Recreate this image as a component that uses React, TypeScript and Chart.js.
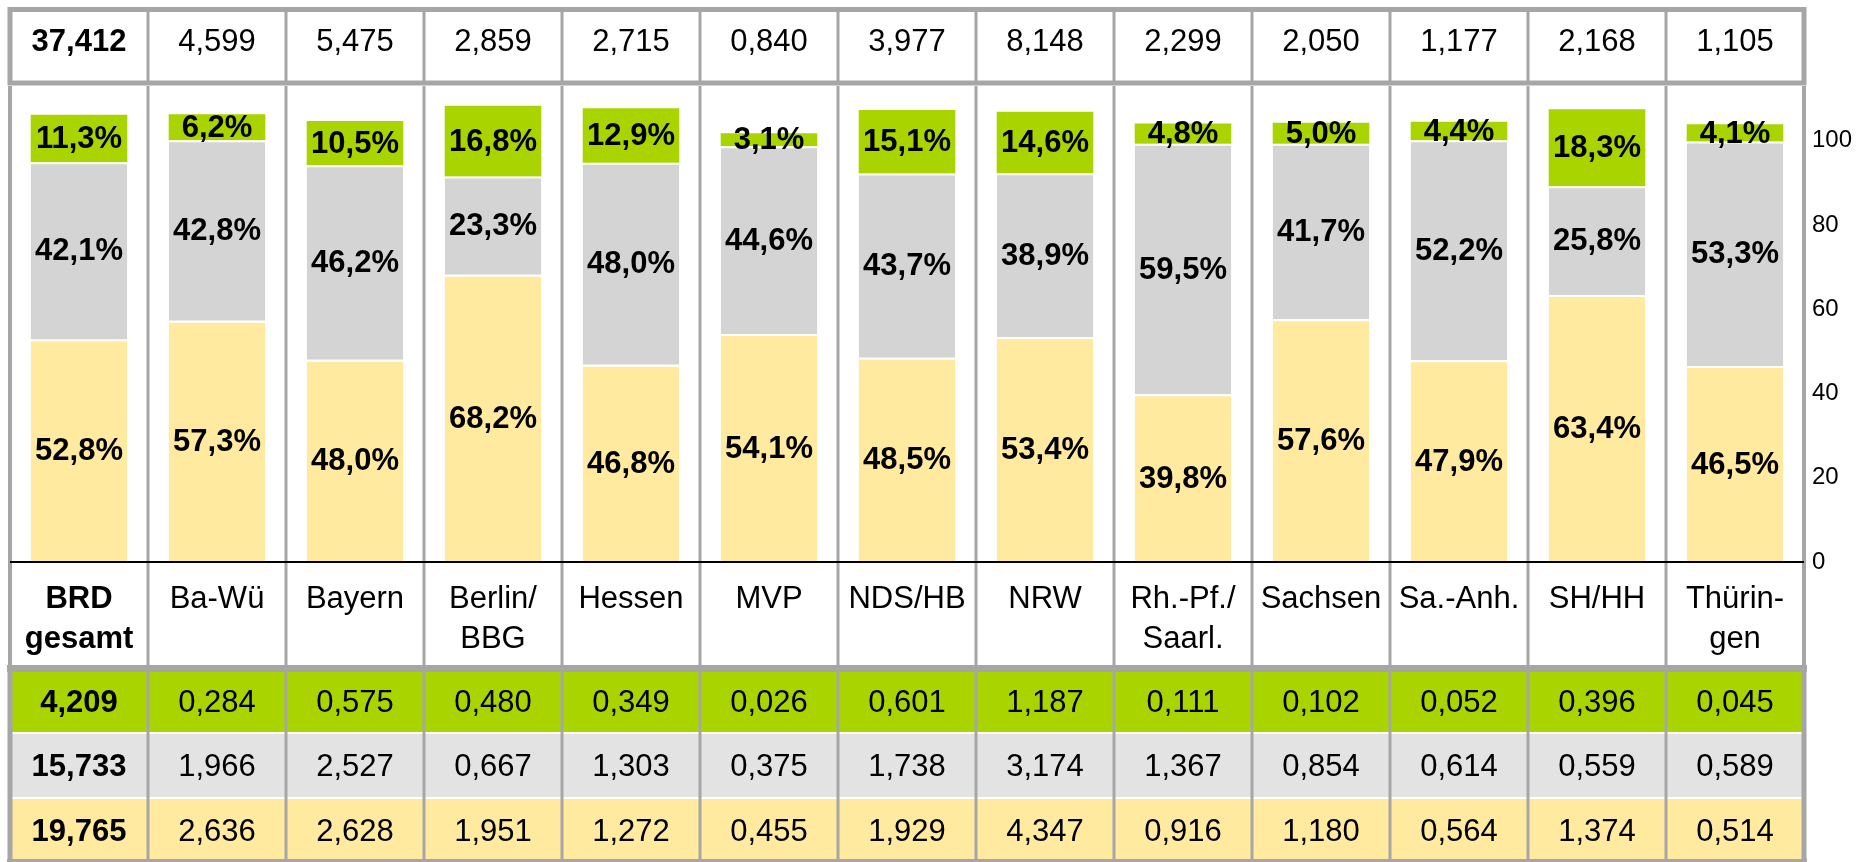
import React, { useEffect, useRef } from "react";
import { Chart, registerables } from "chart.js";

Chart.register(...registerables);

// ---------- data ----------
const categories: (string | string[])[] = [
  ["BRD", "gesamt"],
  "Ba-Wü",
  "Bayern",
  ["Berlin/", "BBG"],
  "Hessen",
  "MVP",
  "NDS/HB",
  "NRW",
  ["Rh.-Pf./", "Saarl."],
  "Sachsen",
  "Sa.-Anh.",
  "SH/HH",
  ["Thürin-", "gen"],
];

const totals = [37.412, 4.599, 5.475, 2.859, 2.715, 0.84, 3.977, 8.148, 2.299, 2.05, 1.177, 2.168, 1.105];

const yellowShare = [52.8, 57.3, 48.0, 68.2, 46.8, 54.1, 48.5, 53.4, 39.8, 57.6, 47.9, 63.4, 46.5];
const greyShare = [42.1, 42.8, 46.2, 23.3, 48.0, 44.6, 43.7, 38.9, 59.5, 41.7, 52.2, 25.8, 53.3];
const greenShare = [11.3, 6.2, 10.5, 16.8, 12.9, 3.1, 15.1, 14.6, 4.8, 5.0, 4.4, 18.3, 4.1];

const greenAbs = [4.209, 0.284, 0.575, 0.48, 0.349, 0.026, 0.601, 1.187, 0.111, 0.102, 0.052, 0.396, 0.045];
const greyAbs = [15.733, 1.966, 2.527, 0.667, 1.303, 0.375, 1.738, 3.174, 1.367, 0.854, 0.614, 0.559, 0.589];
const yellowAbs = [19.765, 2.636, 2.628, 1.951, 1.272, 0.455, 1.929, 4.347, 0.916, 1.18, 0.564, 1.374, 0.514];

const yTicks = [0, 20, 40, 60, 80, 100];

// ---------- styles ----------
const W = 1858;
const H = 862;
const FONT = '"Liberation Sans", Arial, Helvetica, sans-serif';
const YELLOW = "#FFEA9F";
const GREY = "#D4D4D4";
const GREEN = "#AAD400";
const GREY_ROW = "#E3E3E3";
const LINE = "#A6A6A6";

const fmt3 = (v: number) => v.toFixed(3).replace(".", ",");
const fmtPct = (v: number) => v.toFixed(1).replace(".", ",") + "%";

const tablePlugin = {
  id: "tableFrame",
  beforeDraw(chart: any) {
    const { ctx, chartArea: ca } = chart;
    const n = categories.length;
    const L = ca.left;
    const R = ca.right;
    const colW = (R - L) / n;
    ctx.save();
    ctx.fillStyle = "#fff";
    ctx.fillRect(0, 0, chart.width, chart.height);

    // bottom rows
    ctx.fillStyle = GREEN;
    ctx.fillRect(L, 672, R - L, 60);
    ctx.fillStyle = GREY_ROW;
    ctx.fillRect(L, 734, R - L, 63);
    ctx.fillStyle = YELLOW;
    ctx.fillRect(L, 799, R - L, 60);

    ctx.strokeStyle = LINE;
    ctx.fillStyle = LINE;

    // top frame
    ctx.lineWidth = 5;
    ctx.strokeRect(L, 9.5, R - L, 73.5);
    ctx.lineWidth = 3;
    for (let i = 1; i < n; i++) {
      const x = L + i * colW;
      ctx.beginPath();
      ctx.moveTo(x, 12);
      ctx.lineTo(x, 81);
      ctx.stroke();
    }

    // chart + label region dividers
    for (let i = 1; i < n; i++) {
      const x = L + i * colW;
      ctx.beginPath();
      ctx.moveTo(x, ca.top);
      ctx.lineTo(x, 666);
      ctx.stroke();
    }
    ctx.lineWidth = 4;
    [L, R].forEach((x) => {
      ctx.beginPath();
      ctx.moveTo(x, ca.top);
      ctx.lineTo(x, 666);
      ctx.stroke();
    });

    // thick separator above bottom rows
    ctx.fillRect(L - 3, 665, R - L + 6, 7);

    // bottom rows dividers and frame
    ctx.lineWidth = 3;
    for (let i = 1; i < n; i++) {
      const x = L + i * colW;
      ctx.beginPath();
      ctx.moveTo(x, 672);
      ctx.lineTo(x, 859);
      ctx.stroke();
    }
    ctx.lineWidth = 5;
    [L, R].forEach((x) => {
      ctx.beginPath();
      ctx.moveTo(x, 670);
      ctx.lineTo(x, 862);
      ctx.stroke();
    });
    ctx.fillRect(L - 3, 859, R - L + 6, 3);
    ctx.restore();
  },
  afterDatasetsDraw(chart: any) {
    const { ctx, chartArea: ca } = chart;
    ctx.save();
    // baseline
    ctx.fillStyle = "#000";
    ctx.fillRect(ca.left, ca.bottom - 1, ca.right - ca.left, 2);

    // percentage labels
    ctx.font = `bold 31px ${FONT}`;
    ctx.textAlign = "center";
    ctx.textBaseline = "middle";
    chart.data.datasets.forEach((ds: any, d: number) => {
      const meta = chart.getDatasetMeta(d);
      meta.data.forEach((el: any, i: number) => {
        const y = (el.y + el.base) / 2;
        ctx.fillText(fmtPct(ds.data[i]), el.x, y + 1);
      });
    });
    ctx.restore();
  },
  afterDraw(chart: any) {
    const { ctx } = chart;
    const xs = chart.scales.x;
    ctx.save();
    ctx.fillStyle = "#000";
    ctx.textAlign = "center";
    ctx.textBaseline = "middle";
    const rows: [number[], number][] = [
      [totals, 42],
      [greenAbs, 703],
      [greyAbs, 767],
      [yellowAbs, 832],
    ];
    rows.forEach(([vals, y]) => {
      vals.forEach((v, i) => {
        ctx.font = `${i === 0 ? "bold " : ""}31px ${FONT}`;
        ctx.fillText(fmt3(v), xs.getPixelForValue(i), y);
      });
    });
    ctx.restore();
  },
};

export default function App() {
  const canvasRef = useRef<HTMLCanvasElement | null>(null);

  useEffect(() => {
    if (!canvasRef.current) return;
    const barStyle = {
      borderColor: "#ffffff",
      borderSkipped: "start" as const,
      barPercentage: 0.7,
      categoryPercentage: 1.0,
    };
    const chart = new Chart(canvasRef.current, {
      type: "bar",
      data: {
        labels: categories,
        datasets: [
          {
            label: "Anteil 1",
            data: yellowShare,
            backgroundColor: YELLOW,
            borderWidth: { top: 2, left: 0, right: 0, bottom: 0 },
            ...barStyle,
          },
          {
            label: "Anteil 2",
            data: greyShare,
            backgroundColor: GREY,
            borderWidth: { top: 2, left: 0, right: 0, bottom: 0 },
            ...barStyle,
          },
          {
            label: "Anteil 3",
            data: greenShare,
            backgroundColor: GREEN,
            borderWidth: 0,
            ...barStyle,
          },
        ],
      },
      plugins: [tablePlugin],
      options: {
        responsive: false,
        animation: false,
        devicePixelRatio: 1,
        layout: { padding: { top: 86, left: 10, right: 0, bottom: 0 } },
        plugins: {
          legend: { display: false },
          tooltip: { enabled: false },
        },
        scales: {
          x: {
            stacked: true,
            position: "bottom",
            grid: { display: false, drawTicks: false },
            border: { display: false },
            ticks: {
              autoSkip: false,
              maxRotation: 0,
              minRotation: 0,
              padding: 17,
              color: "#000",
              font: (c: any) => ({
                family: FONT,
                size: 31,
                weight: c.index === 0 ? "bold" : "normal",
                lineHeight: 1.3,
              }),
            },
            afterFit: (scale: any) => {
              scale.height = 300;
            },
          },
          y: {
            stacked: true,
            position: "right",
            min: 0,
            max: 113,
            grid: { display: false, drawTicks: false },
            border: { display: false },
            ticks: {
              padding: 8,
              color: "#000",
              font: { family: FONT, size: 24 },
            },
            afterBuildTicks: (scale: any) => {
              scale.ticks = yTicks.map((v) => ({ value: v }));
            },
            afterFit: (scale: any) => {
              scale.width = 54;
            },
          },
        },
      },
    });
    return () => chart.destroy();
  }, []);

  return (
    <div style={{ position: "absolute", left: 0, top: 0, width: W, height: H, background: "#fff" }}>
      <canvas ref={canvasRef} width={W} height={H} style={{ width: W, height: H, display: "block" }} />
    </div>
  );
}
